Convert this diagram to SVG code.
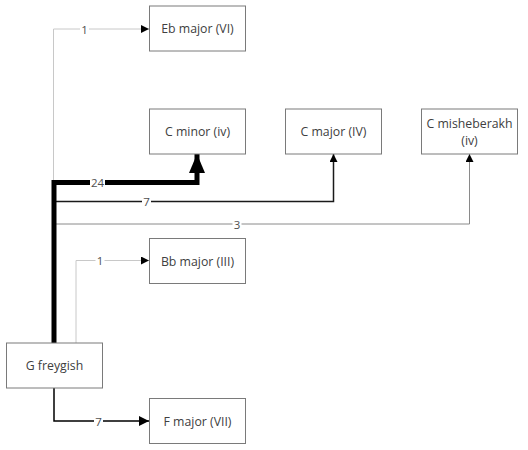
<svg xmlns="http://www.w3.org/2000/svg" width="528" height="450" viewBox="0 0 528 450">
<style>
.box{fill:#fff;stroke:#7a7a7a;stroke-width:1}
.nt{font-family:"Open Sans","Noto Sans",sans-serif;font-size:12.3px;fill:#404040;text-anchor:middle;dominant-baseline:central}
.lt{font-family:"Open Sans","Noto Sans",sans-serif;font-size:11.5px;fill:#505050;text-anchor:middle;dominant-baseline:central}
.lb{fill:#fff}
.e{fill:none;stroke-linejoin:miter}
</style>
<defs>
<marker id="aS" markerWidth="10" markerHeight="10" refX="8" refY="4" orient="auto" markerUnits="userSpaceOnUse"><path d="M0,0 L8,4 L0,8 Z" fill="#000"/></marker>
<marker id="aM" markerWidth="12" markerHeight="12" refX="10" refY="5" orient="auto" markerUnits="userSpaceOnUse"><path d="M0,0 L10,5 L0,10 Z" fill="#000"/></marker>
<marker id="aL" markerWidth="22" markerHeight="22" refX="19" refY="8" orient="auto" markerUnits="userSpaceOnUse"><path d="M0,0 L19,8 L0,16 Z" fill="#000"/></marker>
</defs>
<g id="connectors">
<path class="e" d="M53.5,343 V29 H149" stroke="#c8c8c8" stroke-width="1" marker-end="url(#aS)"/>
<path class="e" d="M54,343 V224 H469.5 V154" stroke="#8a8a8a" stroke-width="1" marker-end="url(#aS)"/>
<path class="e" d="M54,343 V201.5 H333.5 V154" stroke="#1a1a1a" stroke-width="1.5" marker-end="url(#aS)"/>
<path class="e" d="M54,343 V182.5 H197 V154" stroke="#000" stroke-width="5" marker-end="url(#aL)"/>
<path class="e" d="M76,343 V260.5 H149" stroke="#c8c8c8" stroke-width="1" marker-end="url(#aS)"/>
<path class="e" d="M54,388 V421 H149" stroke="#000" stroke-width="1.5" marker-end="url(#aM)"/>
<rect class="lb" x="80" y="23" width="9" height="12"/><text class="lt" x="84.5" y="29">1</text>
<rect class="lb" x="90" y="176" width="15" height="13"/><text class="lt" x="97.5" y="182.5">24</text>
<rect class="lb" x="142" y="195.5" width="9" height="12"/><text class="lt" x="146.5" y="201.5">7</text>
<rect class="lb" x="232.5" y="218" width="9" height="12"/><text class="lt" x="237" y="224">3</text>
<rect class="lb" x="95.5" y="254.5" width="9" height="12"/><text class="lt" x="100" y="260.5">1</text>
<rect class="lb" x="94" y="415" width="9" height="12"/><text class="lt" x="98.5" y="421">7</text>
</g>
<g id="n-eb"><rect class="box" x="149.5" y="6" width="96" height="45"/><text class="nt" x="197.5" y="28.5">Eb major (VI)</text></g>
<g id="n-cmin"><rect class="box" x="149.5" y="109" width="96" height="45"/><text class="nt" x="197.5" y="131.5">C minor (iv)</text></g>
<g id="n-cmaj"><rect class="box" x="285.5" y="109" width="96" height="45"/><text class="nt" x="333.5" y="131.5">C major (IV)</text></g>
<g id="n-cmish"><rect class="box" x="421.5" y="109" width="96" height="45"/><text class="nt" x="469.5" y="123.5">C misheberakh</text><text class="nt" x="469.5" y="140">(iv)</text></g>
<g id="n-bb"><rect class="box" x="149.5" y="238.5" width="96" height="45"/><text class="nt" x="197.5" y="261">Bb major (III)</text></g>
<g id="n-g"><rect class="box" x="6.5" y="343" width="96" height="45"/><text class="nt" x="54.5" y="365.5">G freygish</text></g>
<g id="n-f"><rect class="box" x="149.5" y="398.5" width="96" height="45"/><text class="nt" x="197.5" y="421">F major (VII)</text></g>
</svg>
